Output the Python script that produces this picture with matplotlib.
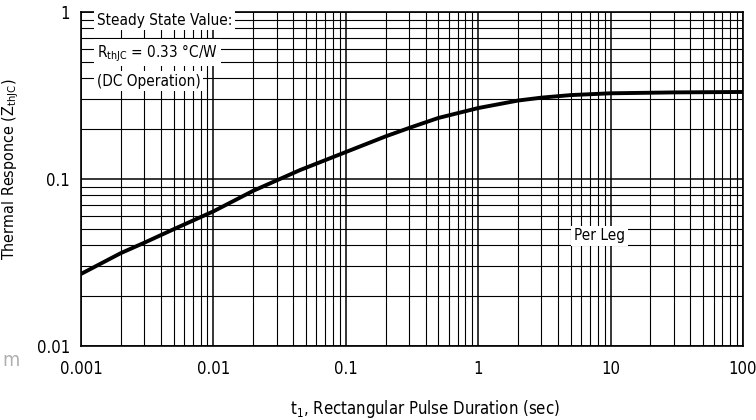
import matplotlib
matplotlib.use("Agg")
import matplotlib.pyplot as plt
from matplotlib import font_manager
from matplotlib.ticker import LogLocator, FixedLocator, NullFormatter

# Thermal impedance curve
pulse_sec = [0.001, 0.002, 0.003, 0.005, 0.01, 0.02, 0.045, 0.1, 0.2, 0.3, 0.5, 1, 2, 3, 5, 10, 30, 100]
z_thjc = [0.027, 0.036, 0.0415, 0.050, 0.064, 0.085, 0.113, 0.145, 0.180, 0.202, 0.232, 0.266, 0.295, 0.307, 0.318, 0.326, 0.330, 0.332]

x_ticks = [0.001, 0.01, 0.1, 1, 10, 100]
x_labels = ["0.001", "0.01", "0.1", "1", "10", "100"]
y_ticks = [0.01, 0.1, 1]
y_labels = ["0.01", "0.1", "1"]

# narrow face looks closer to the datasheet lettering
names = {f.name for f in font_manager.fontManager.ttflist}
if "Liberation Sans Narrow" in names:
    plt.rcParams["font.family"] = ["Liberation Sans Narrow", "DejaVu Sans"]
else:
    plt.rcParams["font.family"] = ["DejaVu Sans"]
    plt.rcParams["font.stretch"] = "condensed"
plt.rcParams["mathtext.fontset"] = "custom"
plt.rcParams["mathtext.rm"] = plt.rcParams["font.family"][0]

fig = plt.figure(figsize=(7.56, 4.2), dpi=100)
ax = fig.add_axes([81 / 756, 1 - 346 / 420, 662 / 756, 334 / 420])

ax.set_xscale("log")
ax.set_yscale("log")
ax.set_xlim(0.001, 100)
ax.set_ylim(0.01, 1)

ax.xaxis.set_minor_locator(LogLocator(base=10, subs=range(2, 10), numticks=20))
ax.yaxis.set_minor_locator(LogLocator(base=10, subs=range(2, 10), numticks=20))
ax.xaxis.set_minor_formatter(NullFormatter())
ax.yaxis.set_minor_formatter(NullFormatter())
ax.grid(True, which="major", color="black", lw=1.1)
ax.grid(True, which="minor", color="black", lw=0.8)
ax.tick_params(which="both", length=0)

ax.xaxis.set_major_locator(FixedLocator(x_ticks))
ax.set_xticklabels(x_labels, fontsize=12)
ax.yaxis.set_major_locator(FixedLocator(y_ticks))
ax.set_yticklabels(y_labels, fontsize=12)
ax.tick_params(axis="x", pad=10)
ax.tick_params(axis="y", pad=8)
for spine in ax.spines.values():
    spine.set_linewidth(1.2)

ax.plot(pulse_sec, z_thjc, color="black", lw=2.8, solid_capstyle="butt", zorder=5)

box = dict(facecolor="white", edgecolor="none", pad=2.0)
ax.text(0.00132, 0.895, "Steady State Value:", fontsize=11, va="center", bbox=box)
ax.text(0.00132, 0.57, r"R$_{\rm thJC}$ = 0.33 °C/W", fontsize=11, va="center", bbox=box)
ax.text(0.00132, 0.386, "(DC Operation)", fontsize=11, va="center", bbox=box)
ax.text(5.3, 0.0456, "Per Leg", fontsize=11, va="center", bbox=box, zorder=6)

ax.set_xlabel(r"t$_1$, Rectangular Pulse Duration (sec)", fontsize=12)
ax.xaxis.set_label_coords(0.52, -0.155)
ax.set_ylabel(r"Thermal Responce (Z$_{\rm thJC}$)", fontsize=11.5)
ax.yaxis.set_label_coords(-0.09, 0.53)

fig.text(11 / 756, 1 - 361 / 420, "m", fontsize=14, color="#b0b0b0", va="center", ha="center")

fig.savefig("out.png", dpi=100)
